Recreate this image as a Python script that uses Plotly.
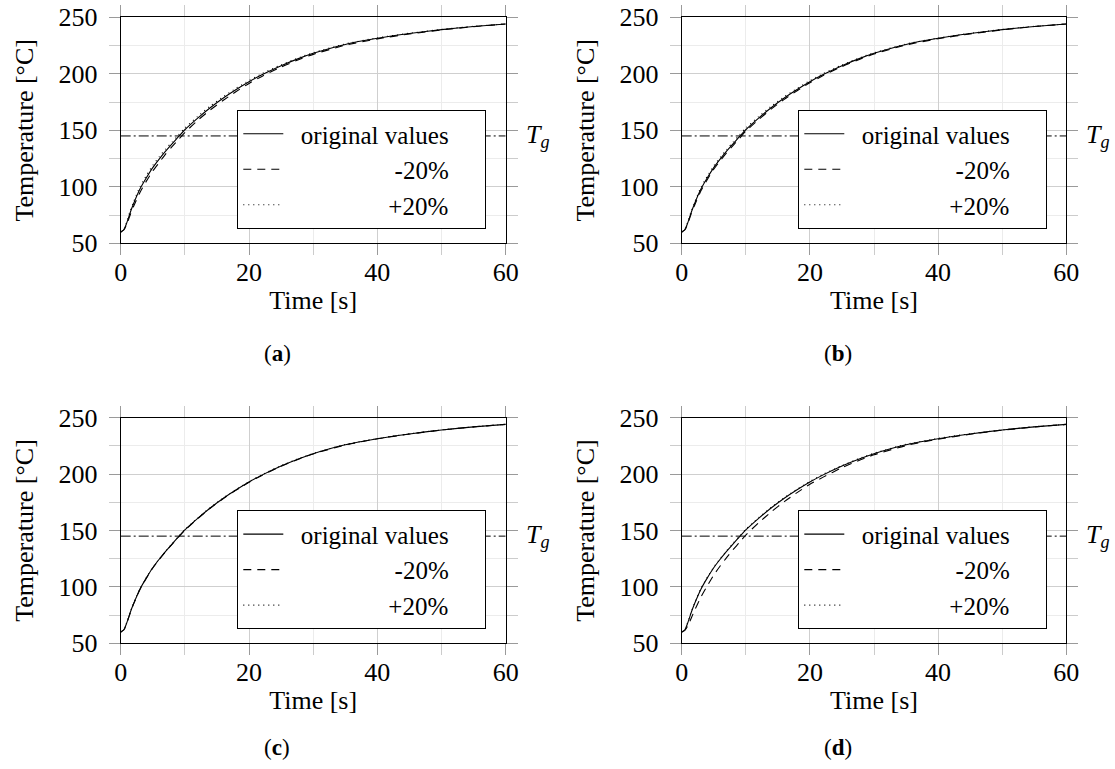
import plotly.graph_objects as go

# ---------------- data ----------------
time_s = [0, 0.5, 1, 1.5, 2, 3, 4, 5, 6, 7, 8, 9, 10, 12, 14, 16, 18, 20, 22, 25, 28, 30, 35, 40, 45, 50, 55, 60]

orig_vals = [60, 62, 69, 77.5, 85, 98, 108, 117, 124.5, 131.5, 138, 144.3, 150.5, 160.8, 170.2, 178.6, 186.1, 193, 199.1, 207.2, 214.1, 218.1, 226, 231.4, 235.6, 239.1, 241.9, 244.1]

a_minus = [60, 62, 67.5, 75.5, 82.5, 95, 105, 114, 121.5, 129, 135.5, 141.8, 148, 158.8, 168.2, 176.6, 184.3, 191.5, 197.7, 206, 213.1, 217.2, 225.3, 230.9, 235.2, 238.8, 241.7, 244.1]
a_plus = [60, 62, 70, 79, 86.5, 100, 110, 119, 126.5, 133.5, 139.5, 145.8, 152, 162.3, 171.7, 179.8, 187.3, 194, 200.1, 208, 214.8, 218.7, 226.5, 231.8, 235.9, 239.3, 242, 244.1]

b_minus = [60, 62, 68, 76.5, 83.5, 96.5, 106.5, 115.5, 123, 130, 136.5, 142.8, 149.2, 159.5, 168.9, 177.4, 185, 192, 198.2, 206.4, 213.4, 217.5, 225.5, 231, 235.3, 238.9, 241.8, 244.1]
b_plus = [60, 62, 70, 78.5, 86, 99.5, 109.5, 118.5, 126, 133, 139.5, 145.8, 152, 162.1, 171.4, 179.7, 187.1, 193.9, 199.9, 207.9, 214.7, 218.6, 226.4, 231.7, 235.8, 239.3, 242, 244.1]

c_minus = [60, 62, 68.7, 77.2, 84.7, 97.7, 107.7, 116.7, 124.2, 131.2, 137.7, 144, 150.2, 160.5, 169.9, 178.3, 185.8, 192.7, 198.8, 206.9, 213.9, 217.9, 225.8, 231.3, 235.5, 239, 241.9, 244.1]
c_plus = [60, 62, 69.3, 77.8, 85.3, 98.3, 108.3, 117.3, 124.8, 131.8, 138.3, 144.6, 150.8, 161.1, 170.5, 178.9, 186.4, 193.3, 199.4, 207.5, 214.3, 218.3, 226.2, 231.5, 235.7, 239.2, 241.9, 244.1]

d_minus = [60, 61.5, 66, 72.5, 79, 91, 101, 110.5, 118.5, 126, 133, 139.3, 146, 156.8, 166.7, 175.6, 183.6, 191, 197.1, 205.7, 212.9, 217.1, 225.3, 230.9, 235.3, 238.9, 241.8, 244.1]
d_plus = [60, 62, 69.5, 78, 85.5, 98.5, 108.5, 117.5, 125, 132, 138.5, 144.8, 151, 161.3, 170.7, 179.1, 186.6, 193.5, 199.6, 207.6, 214.5, 218.5, 226.4, 231.7, 235.8, 239.2, 242, 244.1]

tg_value = 145
tg_span = [0, 60]

series_names = ["original values", "-20%", "+20%"]
panel_labels = ["a", "b", "c", "d"]
x_ticks = [0, 20, 40, 60]
y_ticks = [50, 100, 150, 200, 250]

panels = [
    (orig_vals, a_minus, a_plus),
    (orig_vals, b_minus, b_plus),
    (orig_vals, c_minus, c_plus),
    (orig_vals, d_minus, d_plus),
]

# ---------------- layout geometry ----------------
W, H = 1115, 769
FONT = "Liberation Serif"
FS = 26
LFS = 25


def px_x(p):
    return p / W


def px_y(p):
    return (H - p) / H


x_dom = [[px_x(120.7), px_x(505.7)], [px_x(681.7), px_x(1066.3)]]
y_dom = [[px_y(243.3), px_y(17.3)], [px_y(643.3), px_y(417.7)]]

fig = go.Figure()
layout = {}
annotations = []

legend_names = ["legend", "legend2", "legend3", "legend4"]
dash_styles = ["solid", "8px,6px", "1px,4px"]
NB = "\u00a0"
labels_fmt = [NB * 2 + series_names[0] + NB * 5,
              NB * 17 + series_names[1] + NB * 5,
              NB * 16 + series_names[2] + NB * 5]

for i, (s0, s1, s2) in enumerate(panels):
    row, col = divmod(i, 2)
    sfx = "" if i == 0 else str(i + 1)
    xa, ya = "x" + sfx, "y" + sfx
    # Tg line
    fig.add_trace(go.Scatter(x=tg_span, y=[tg_value, tg_value], mode="lines",
                             line=dict(color="black", width=1, dash="10px,3px,2px,3px"),
                             showlegend=False, xaxis=xa, yaxis=ya, hoverinfo="skip"))
    for k, ser in enumerate((s0, s1, s2)):
        fig.add_trace(go.Scatter(x=time_s, y=ser, mode="lines",
                                 name=labels_fmt[k],
                                 line=dict(color="black", width=1.1, dash=dash_styles[k], shape="spline", smoothing=0.6),
                                 legend=legend_names[i], xaxis=xa, yaxis=ya))
    axis_common = dict(showline=True, linecolor="black", linewidth=1, mirror="allticks",
                       ticks="outside", ticklen=11, tickcolor="#9a9a9a", tickwidth=1,
                       showgrid=True, gridcolor="#cfcfcf", gridwidth=1, zeroline=False,
                       automargin=False, ticklabeloverflow="allow",
                       tickfont=dict(family=FONT, size=FS, color="black"))
    layout["xaxis" + sfx] = dict(axis_common, domain=x_dom[col], range=[0, 60], anchor=ya,
                                 tickvals=x_ticks, ticklabelstandoff=-6,
                                 minor=dict(dtick=10, tick0=0, ticks="outside", ticklen=11, tickcolor="#cccccc",
                                            showgrid=True, gridcolor="#ececec"),
                                 title=dict(text="Time [s]", font=dict(family=FONT, size=FS, color="black"), standoff=5))
    layout["yaxis" + sfx] = dict(axis_common, domain=y_dom[row], range=[50, 250], anchor=xa,
                                 tickvals=y_ticks, ticklabelstandoff=6,
                                 minor=dict(dtick=25, tick0=50, ticks="outside", ticklen=11, tickcolor="#cccccc",
                                            showgrid=True, gridcolor="#ececec"),
                                 title=dict(text="Temperature [°C]", font=dict(family=FONT, size=FS, color="black"), standoff=17))
    # legend placement
    lx = px_x(237.3 + 561 * col)
    ly = px_y(110 + 400.4 * row)
    layout[legend_names[i]] = dict(x=lx, y=ly, xanchor="left", yanchor="top",
                                   bgcolor="white", bordercolor="black", borderwidth=1,
                                   font=dict(family=FONT, size=LFS, color="black"),
                                   itemwidth=40, tracegroupgap=0)
    # Tg label
    annotations.append(dict(text="<i>T<sub>g</sub></i>", x=60, y=tg_value, xref=xa, yref=ya,
                            xanchor="left", yanchor="middle", xshift=18, showarrow=False,
                            font=dict(family=FONT, size=FS, color="black")))
    # panel caption
    cx = px_x(277 + 561 * col)
    cy = px_y(354 + 393 * row)
    annotations.append(dict(text="(<b>" + panel_labels[i] + "</b>)", x=cx, y=cy, xref="paper", yref="paper",
                            xanchor="center", yanchor="middle", showarrow=False,
                            font=dict(family=FONT, size=FS - 3, color="black")))

fig.update_layout(width=W, height=H, margin=dict(l=0, r=0, t=0, b=0, autoexpand=False),
                  paper_bgcolor="white", plot_bgcolor="white",
                  font=dict(family=FONT, size=FS, color="black"),
                  annotations=annotations, **layout)

fig.write_html("out.html", config={"displayModeBar": False},
               post_script="document.body.style.margin='0';document.body.style.overflow='hidden';")
